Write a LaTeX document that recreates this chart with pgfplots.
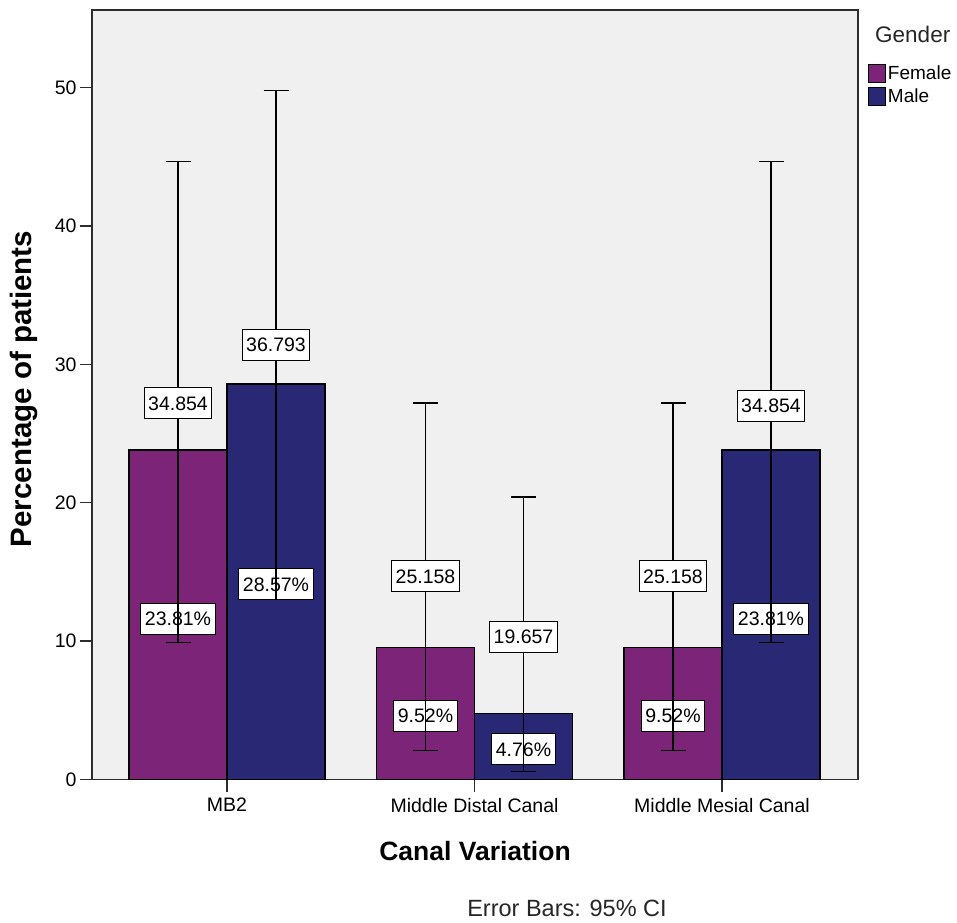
\documentclass[border=0pt]{standalone}
\usepackage{pgfplots}
\pgfplotsset{compat=1.18}
\usepackage{fontspec}
\setmainfont{Liberation Sans}
\definecolor{fem}{RGB}{124,37,120}
\definecolor{mal}{RGB}{40,40,116}
\definecolor{bg}{RGB}{240,240,240}
\definecolor{axc}{RGB}{45,45,45}
\tikzset{lbl/.style={draw=black, fill=white, line width=0.9pt, inner xsep=4pt, inner ysep=8.5pt, text height=14pt, text depth=0pt, font=\fontsize{19.5}{22}\selectfont}}
\begin{document}
\begin{tikzpicture}
\path[use as bounding box] (0,0) rectangle (957pt,922pt);
\begin{axis}[
  at={(92pt,142.5pt)}, anchor=south west,
  scale only axis, width=766pt, height=769.5pt,
  xmin=-0.5455, xmax=2.5495, ymin=0, ymax=55.6,
  axis background/.style={fill=bg},
  ybar=0pt, bar width=98pt,
  xtick={0,1,2}, xticklabels={MB2,Middle Distal Canal,Middle Mesial Canal},
  ytick={0,10,20,30,40,50},
  tick align=outside, xtick pos=bottom, ytick pos=left,
  major tick length=12pt,
  tick style={axc, line width=1.5pt},
  axis line style={axc, line width=1.8pt},
  ticklabel style={font=\fontsize{19.5}{22}\selectfont},
  xticklabel shift=3pt,
  /pgf/number format/assume math mode=true,
  legend style={at={(axis description cs:1.013,0.931)}, anchor=north west, draw=none, fill=none, inner sep=0pt, row sep=4pt, font=\fontsize{19}{21}\selectfont, cells={anchor=west}},
  legend image code/.code={\draw[#1,draw=black,line width=0.8pt] (0pt,-9pt) rectangle (17pt,9pt);},
]
\addplot[fill=fem, draw=black, line width=1.2pt, bar shift=-49pt] coordinates {(0,23.81) (1,9.52) (2,9.52)};
\addlegendentry{Female}
\addplot[fill=mal, draw=black, line width=1.2pt, bar shift=49pt] coordinates {(0,28.57) (1,4.76) (2,23.81)};
\addlegendentry{Male}
% lower labels (percentages)
\node[lbl] at (axis cs:-0.198,11.6) {23.81\%};
\node[lbl] at (axis cs:0.198,14.1) {28.57\%};
\node[lbl] at (axis cs:0.802,4.6) {9.52\%};
\node[lbl] at (axis cs:1.198,2.2) {4.76\%};
\node[lbl] at (axis cs:1.802,4.6) {9.52\%};
\node[lbl] at (axis cs:2.198,11.6) {23.81\%};
% error bars (95% CI)
\addplot[draw=none, fill=none, bar shift=-49pt, forget plot,
  error bars/.cd, y dir=both, y explicit,
  error bar style={draw=black, line width=1.4pt},
  error mark options={draw=black, line width=1.4pt, mark size=12.5pt, rotate=90}]
  coordinates {(0,23.81) += (0,20.84) -= (0,13.91)
               (1,9.52) += (0,17.68) -= (0,7.42)
               (2,9.52) += (0,17.68) -= (0,7.42)};
\addplot[draw=none, fill=none, bar shift=49pt, forget plot,
  error bars/.cd, y dir=both, y explicit,
  error bar style={draw=black, line width=1.4pt},
  error mark options={draw=black, line width=1.4pt, mark size=12.5pt, rotate=90}]
  coordinates {(0,28.57) += (0,21.23) -= (0,15.57)
               (1,4.76) += (0,15.64) -= (0,4.16)
               (2,23.81) += (0,20.84) -= (0,13.91)};
% upper labels
\node[lbl] at (axis cs:-0.198,27.2) {34.854};
\node[lbl] at (axis cs:0.198,31.4) {36.793};
\node[lbl] at (axis cs:0.802,14.7) {25.158};
\node[lbl] at (axis cs:1.198,10.3) {19.657};
\node[lbl] at (axis cs:1.802,14.7) {25.158};
\node[lbl] at (axis cs:2.198,27.0) {34.854};
\end{axis}
\node[anchor=base west, font=\fontsize{22.5}{25}\selectfont, text=black!85, inner sep=0pt] at (875pt,879pt) {Gender};
\node[rotate=90, font=\bfseries\fontsize{29.5}{32}\selectfont, inner sep=0pt] at (24pt,533pt) {Percentage of patients};
\node[anchor=base, font=\bfseries\fontsize{26.5}{30}\selectfont, inner sep=0pt] at (475pt,62pt) {Canal Variation};
\node[anchor=base, font=\fontsize{23.5}{26}\selectfont, text=black!85, inner sep=0pt] at (567pt,6pt) {Error Bars: 95\% CI};
\end{tikzpicture}
\end{document}
